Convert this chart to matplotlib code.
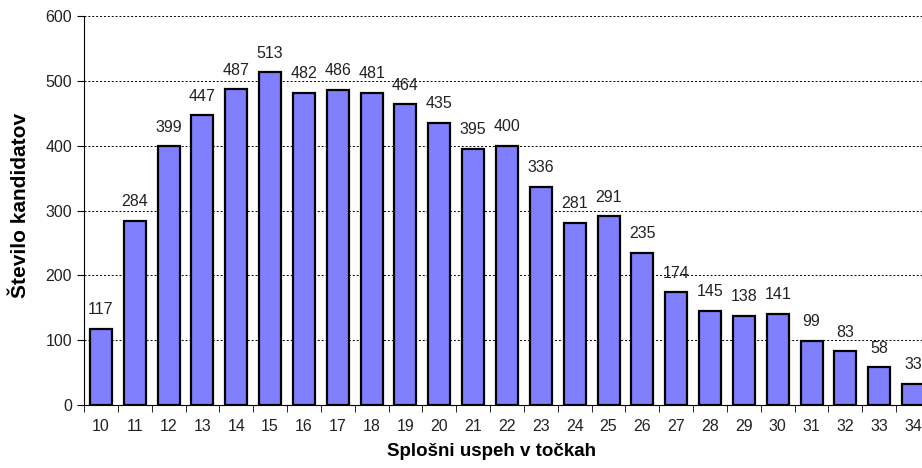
import numpy as np
import matplotlib.pyplot as plt

plt.rcParams['font.family'] = ['Liberation Sans', 'DejaVu Sans']

# Score points and number of candidates
points = list(range(10, 35))
candidates = [117, 284, 399, 447, 487, 513, 482, 486, 481, 464, 435, 395, 400,
              336, 281, 291, 235, 174, 145, 138, 141, 99, 83, 58, 33]

fig = plt.figure(figsize=(9.22, 4.68), dpi=100)
ax = fig.add_axes([0.0911, 0.1346, 0.9176, 0.8312])

x = np.arange(len(points))
ax.bar(x, candidates, width=0.65, color="#8080FF", edgecolor="black", linewidth=1.6, zorder=3)

for xi, v in zip(x, candidates):
    ax.text(xi, v + 18, str(v), ha="center", va="bottom", fontsize=11.5, color="#222222")

ax.set_xlim(-0.5, len(points) - 0.5)
ax.set_ylim(0, 600)
ax.set_yticks(range(0, 601, 100))
ax.yaxis.grid(True, linestyle=(0, (2, 2)), color="black", linewidth=0.7, zorder=0)

ax.set_xticks(x)
ax.set_xticklabels([str(p) for p in points], fontsize=11.5, color="#222222")
ax.set_xticks(np.arange(-0.5, len(points), 1), minor=True)
ax.tick_params(axis="x", which="major", length=0, pad=10)
ax.tick_params(axis="x", which="minor", length=5, direction="out", color="black")
ax.tick_params(axis="y", length=5, labelsize=11.5, color="black", labelcolor="#222222")

for s in ["top", "right"]:
    ax.spines[s].set_visible(False)
ax.spines["left"].set_color("black")
ax.spines["bottom"].set_color("black")

ax.set_xlabel("Splošni uspeh v točkah", fontsize=13.5, fontweight="bold")
ax.xaxis.set_label_coords(0.482, -0.098)
ax.set_ylabel("Število kandidatov", fontsize=15, fontweight="bold")
ax.yaxis.set_label_coords(-0.064, 0.512)

fig.savefig("out.png", dpi=100)
